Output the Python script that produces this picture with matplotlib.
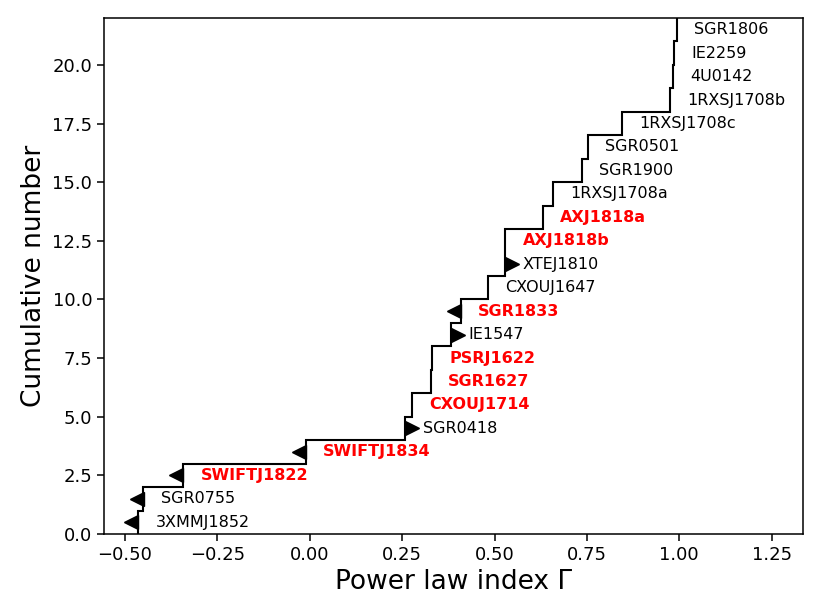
import numpy as np
from matplotlib import pyplot as plt

# power law index per source, sorted (one step per source)
names = ["3XMMJ1852", "SGR0755", "SWIFTJ1822", "SWIFTJ1834", "SGR0418",
         "CXOUJ1714", "SGR1627", "PSRJ1622", "IE1547", "SGR1833",
         "CXOUJ1647", "XTEJ1810", "AXJ1818b", "AXJ1818a", "1RXSJ1708a",
         "SGR1900", "SGR0501", "1RXSJ1708c", "1RXSJ1708b", "4U0142",
         "IE2259", "SGR1806"]
gamma = [-0.465, -0.451, -0.343, -0.011, 0.259,
         0.277, 0.328, 0.331, 0.382, 0.409,
         0.483, 0.528, 0.529, 0.630, 0.658,
         0.737, 0.753, 0.846, 0.975, 0.983,
         0.987, 0.993]
# radio-loud / highlighted sources
highlight = ["SWIFTJ1822", "SWIFTJ1834", "CXOUJ1714", "SGR1627", "PSRJ1622",
             "SGR1833", "AXJ1818b", "AXJ1818a"]
# limits: upper limits (left arrow) and lower limits (right arrow)
upper_lim = ["3XMMJ1852", "SGR0755", "SWIFTJ1822", "SWIFTJ1834", "SGR1833"]
lower_lim = ["SGR0418", "IE1547", "XTEJ1810"]

gamma = np.array(gamma)
n = len(gamma)
levels = np.arange(n + 1)

fig = plt.figure(figsize=(8.22, 6.16), dpi=100)
ax = fig.add_axes([104 / 822, 82 / 616, 699 / 822, 516 / 616])

ax.stairs(gamma, levels, orientation="horizontal", baseline=None,
          color="k", lw=1.5)

for i, name in enumerate(names):
	y = i + 0.5
	if name in highlight:
		ax.text(gamma[i] + 0.047, y, name, color="red", fontweight="bold",
		        fontsize=11.5, va="center", ha="left")
	else:
		ax.text(gamma[i] + 0.047, y, name, color="k",
		        fontsize=11.5, va="center", ha="left")
	if name in upper_lim:
		ax.plot(gamma[i] - 0.018, y, marker="<", color="k", ms=9.5, ls="none")
	if name in lower_lim:
		ax.plot(gamma[i] + 0.018, y, marker=">", color="k", ms=9.5, ls="none")

ax.set_xlim(-0.557, 1.335)
ax.set_ylim(0, 22)
ax.set_xticks(np.arange(-0.5, 1.26, 0.25))
ax.set_yticks(np.arange(0, 20.1, 2.5))
ax.tick_params(labelsize=13, length=5, width=1.1)
for s in ax.spines.values():
	s.set_linewidth(1.1)
ax.set_xlabel("Power law index Γ", fontsize=19)
ax.set_ylabel("Cumulative number", fontsize=19)

fig.savefig("out.png", dpi=100)
